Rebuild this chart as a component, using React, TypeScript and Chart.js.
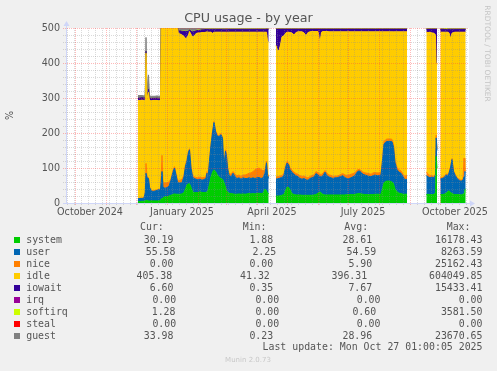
import React, { useEffect, useRef } from "react";
import { Chart, registerables } from "chart.js";

Chart.register(...registerables);

// x = days since 22 Sep 2024 (400-day window ending 27 Oct 2025)
const days = [
  72, 74, 76, 78, 79.3, 80, 81, 82.5, 83.5, 85, 87, 89, 91, 93, 94.5,
  95.2, 96, 97, 99, 101, 103, 105, 107, 108.5, 110, 111.5,
  112.3, 114, 116, 118, 119.5, 121, 122.5, 123.5, 125, 126.5,
  128, 130, 132, 134, 136, 138, 140, 141, 142, 143.5,
  145, 146.5, 148, 149.5, 151, 153, 155, 156.5, 157.5, 158.5,
  159.5, 160.5, 161.5, 163, 165, 167, 169, 171, 173, 175,
  177, 179, 181, 183, 185, 187, 189, 191, 193, 195,
  197, 199, 200.5, 201.5, 202.7,
  206,
  210, 211.5, 213, 214.5, 216, 218, 219.5, 221, 222.5, 224,
  226, 228, 230, 232, 234, 236, 238, 240, 242, 244,
  246, 248, 250, 252, 254, 255.5, 257, 259, 261, 263,
  265, 267, 269, 271, 273, 275, 277, 279, 281, 283,
  285, 287, 289, 291, 293, 295, 297, 299, 301, 303,
  305, 307, 309, 311, 313, 315, 316.5, 318, 320, 322,
  324, 326, 327.5, 329, 331, 333, 335, 337, 339, 341,
  350,
  360.3, 362, 364, 366, 368, 369.5, 370.2, 371,
  372.5,
  374.3, 376, 378, 380, 381.5, 383, 384.5, 386, 387.5, 389,
  391, 393, 395, 397, 398, 398.8, 399.7,
];

const system = [
  4, 4, 5, 5, 6, 8, 7, 6, 6, 6, 6, 6, 6, 6, 7,
  12, 12, 15, 18, 18, 20, 22, 25, 26, 25, 25,
  25, 25, 26, 30, 40, 52, 55, 55, 45, 33,
  30, 30, 30, 32, 30, 30, 30, 33, 35, 55,
  75, 88, 95, 90, 82, 74, 70, 68, 62, 55,
  45, 35, 32, 28, 27, 26, 25, 25, 26, 25,
  26, 25, 26, 27, 26, 27, 26, 27, 28, 27,
  28, 40, 35, 28, 27,
  null,
  20, 20, 20, 21, 22, 25, 35, 45, 45, 38,
  27, 24, 23, 23, 23, 22, 22, 22, 22, 22,
  22, 23, 24, 28, 32, 28, 24, 23, 23, 23,
  23, 23, 23, 23, 23, 23, 23, 23, 24, 24,
  24, 24, 25, 26, 27, 26, 25, 24, 24, 24,
  24, 24, 25, 25, 25, 25, 40, 58, 62, 63,
  62, 60, 55, 40, 32, 28, 27, 25, 25, 25,
  null,
  24, 25, 24, 24, 24, 30, 133, 100,
  null,
  24, 24, 25, 27, 32, 35, 30, 27, 25, 24,
  24, 24, 23, 24, 28, 38, 40,
];

const user = [
  8, 9, 8, 9, 24, 77, 65, 64, 39, 29, 27, 28, 30, 32, 30,
  48, 78, 30, 24, 26, 28, 43, 63, 74, 55, 35,
  33, 32, 32, 45, 65, 68, 90, 97, 55, 42,
  40, 38, 36, 36, 35, 37, 40, 52, 35, 65,
  90, 112, 135, 115, 110, 116, 125, 117, 63, 65,
  103, 100, 68, 52, 48, 59, 50, 45, 46, 43,
  46, 45, 44, 45, 44, 45, 44, 45, 45, 43,
  44, 45, 80, 52, 43,
  null,
  48, 50, 50, 51, 50, 55, 65, 69, 65, 57,
  61, 58, 55, 52, 47, 46, 48, 44, 43, 48,
  50, 51, 60, 52, 43, 47, 54, 65, 55, 51,
  49, 47, 49, 49, 51, 53, 55, 49, 46, 46,
  48, 51, 53, 62, 65, 62, 57, 56, 54, 52,
  51, 54, 55, 53, 53, 55, 80, 110, 113, 113,
  114, 115, 105, 75, 63, 60, 58, 50, 41, 43,
  null,
  54, 50, 48, 50, 48, 50, 53, 50,
  null,
  44, 46, 47, 53, 46, 50, 70, 97, 65, 56,
  46, 41, 39, 41, 47, 52, 48,
];

const nice = [
  1, 1, 1, 1, 2, 28, 4, 3, 2, 2, 2, 2, 2, 2, 2,
  20, 46, 15, 15, 14, 12, 5, 5, 4, 5, 6,
  7, 8, 10, 5, 5, 4, 3, 3, 5, 5,
  5, 5, 6, 6, 7, 6, 5, 5, 5, 4,
  4, 4, 3, 3, 3, 3, 3, 3, 3, 5,
  4, 5, 4, 5, 7, 5, 7, 8, 8, 8,
  8, 10, 12, 13, 16, 18, 25, 26, 27, 26,
  20, 10, 5, 4, 5,
  null,
  6, 6, 6, 6, 6, 5, 5, 5, 5, 5,
  6, 6, 6, 7, 8, 8, 7, 8, 7, 6,
  6, 6, 6, 6, 7, 7, 7, 5, 7, 6,
  7, 6, 5, 5, 5, 6, 6, 8, 9, 10,
  10, 9, 8, 6, 4, 5, 6, 6, 7, 8,
  7, 8, 7, 8, 8, 6, 5, 8, 7, 7,
  7, 7, 8, 7, 7, 6, 7, 7, 10, 12,
  null,
  10, 9, 6, 4, 4, 3, 8, 5,
  null,
  4, 3, 3, 3, 3, 3, 3, 3, 3, 3,
  3, 3, 3, 3, 53, 3, 4,
];

const idle = [
  280, 279, 280, 278, 262, 315, 224, 243, 246, 255, 258, 257, 255, 252, 254,
  425, 369, 445, 448, 447, 445, 435, 412, 401, 420, 439,
  419, 418, 412, 396, 360, 348, 332, 335, 377, 395,
  401, 411, 414, 412, 415, 414, 413, 399, 413, 364,
  319, 281, 255, 280, 293, 295, 290, 300, 360, 363,
  336, 348, 384, 403, 406, 398, 406, 410, 408, 412,
  408, 408, 406, 403, 402, 398, 393, 390, 388, 392,
  396, 393, 368, 378, 385,
  null,
  376, 360, 359, 374, 397, 393, 380, 369, 373, 387,
  392, 392, 403, 407, 411, 413, 409, 404, 415, 413,
  412, 410, 400, 404, 376, 406, 405, 397, 405, 409,
  410, 413, 412, 412, 410, 407, 405, 409, 410, 409,
  407, 405, 403, 395, 393, 396, 401, 403, 404, 405,
  407, 403, 402, 403, 403, 403, 364, 313, 307, 306,
  306, 307, 321, 367, 387, 395, 397, 407, 413, 409,
  null,
  400, 403, 410, 408, 409, 397, 193, 245,
  null,
  416, 415, 413, 405, 407, 398, 367, 358, 394, 405,
  415, 420, 423, 420, 360, 395, 396,
];

const iowait = [
  7, 7, 7, 7, 7, 6, 6, 9, 6, 7, 6, 6, 7, 7, 7,
  8, 8, 8, 8, 8, 8, 8, 8, 8, 8, 8,
  9, 9, 11, 14, 20, 18, 11, 5, 9, 14,
  14, 8, 7, 8, 8, 8, 8, 7, 8, 8,
  8, 11, 8, 8, 8, 8, 8, 8, 8, 8,
  8, 8, 8, 8, 8, 8, 8, 8, 8, 8,
  8, 8, 8, 8, 8, 8, 8, 8, 8, 8,
  8, 8, 9, 35, 37,
  null,
  47, 61, 62, 45, 22, 19, 12, 9, 9, 10,
  11, 17, 10, 8, 8, 8, 11, 19, 10, 8,
  7, 7, 7, 7, 39, 9, 7, 7, 7, 8,
  8, 8, 8, 8, 8, 8, 8, 8, 8, 8,
  8, 8, 8, 8, 8, 8, 8, 8, 8, 8,
  8, 8, 8, 8, 8, 8, 8, 8, 8, 8,
  8, 8, 8, 8, 8, 8, 8, 8, 8, 8,
  null,
  9, 10, 9, 11, 12, 17, 110, 97,
  null,
  8, 8, 8, 8, 8, 10, 26, 11, 9, 8,
  8, 8, 8, 8, 8, 8, 8,
];

const softirq = [
  0, 0, 0, 0, 0, 0, 0, 0, 0, 0, 0, 0, 0, 0, 0,
  0, 0, 0, 0, 0, 0, 0, 0, 0, 0, 0,
  1, 1, 1, 1, 1, 1, 1, 1, 1, 1,
  1, 1, 1, 1, 1, 1, 1, 1, 1, 1,
  1, 1, 1, 1, 1, 1, 1, 1, 1, 1,
  1, 1, 1, 1, 1, 1, 1, 1, 1, 1,
  1, 1, 1, 1, 1, 1, 1, 1, 1, 1,
  1, 1, 1, 1, 1,
  null,
  1, 1, 1, 1, 1, 1, 1, 1, 1, 1,
  1, 1, 1, 1, 1, 1, 1, 1, 1, 1,
  1, 1, 1, 1, 1, 1, 1, 1, 1, 1,
  1, 1, 1, 1, 1, 1, 1, 3, 1, 1,
  1, 1, 1, 1, 1, 3, 1, 1, 1, 1,
  1, 1, 3, 1, 1, 1, 1, 1, 1, 1,
  1, 1, 1, 1, 1, 1, 1, 1, 1, 1,
  null,
  1, 3, 1, 1, 1, 1, 1, 1,
  null,
  1, 1, 1, 3, 1, 1, 1, 1, 1, 1,
  1, 1, 1, 1, 1, 1, 1,
];

const guest = [
  7, 7, 6, 6, 6, 39, 6, 41, 7, 6, 6, 6, 6, 6, 6,
  25, 25, 25, 25, 25, 25, 25, 25, 25, 25, 25,
  28, 28, 28, 28, 28, 28, 28, 28, 28, 28,
  28, 28, 28, 28, 28, 28, 28, 28, 28, 28,
  28, 28, 28, 28, 28, 28, 28, 28, 28, 28,
  28, 28, 28, 28, 28, 28, 28, 28, 28, 28,
  28, 28, 28, 28, 28, 28, 28, 28, 28, 28,
  28, 28, 28, 28, 28,
  null,
  28, 28, 28, 28, 28, 28, 28, 28, 28, 28,
  28, 28, 28, 28, 28, 28, 28, 28, 28, 28,
  28, 28, 28, 28, 28, 28, 28, 28, 28, 28,
  28, 28, 28, 28, 28, 28, 28, 28, 28, 28,
  28, 28, 28, 28, 28, 28, 28, 28, 28, 28,
  28, 28, 28, 28, 28, 28, 28, 28, 28, 28,
  28, 28, 28, 28, 28, 28, 28, 28, 28, 28,
  null,
  28, 28, 28, 28, 28, 28, 28, 28,
  null,
  28, 28, 28, 28, 28, 28, 28, 28, 28, 28,
  28, 28, 28, 28, 28, 28, 28,
];

const SERIES = [
  { name: "system", color: "#00CC00", values: system },
  { name: "user", color: "#0066B3", values: user },
  { name: "nice", color: "#FF8000", values: nice },
  { name: "idle", color: "#FFCC00", values: idle },
  { name: "iowait", color: "#330099", values: iowait },
  { name: "softirq", color: "#CCFF00", values: softirq },
  { name: "guest", color: "#808080", values: guest },
];

// axis ticks
const yTicks = [0, 100, 200, 300, 400, 500];
const monthStarts = [9, 40, 70, 101, 132, 160, 191, 221, 252, 282, 313, 344, 374];
const labelDays = [24, 116, 206, 297, 389];
const labelTexts = ["October 2024", "January 2025", "April 2025", "July 2025", "October 2025"];

// legend table
const legendNames = ["system", "user", "nice", "idle", "iowait", "irq", "softirq", "steal", "guest"];
const legendColors = ["#00CC00", "#0066B3", "#FF8000", "#FFCC00", "#330099", "#990099", "#CCFF00", "#FF0000", "#808080"];
const curVals = ["30.19", "55.58", "0.00", "405.38", "6.60", "0.00", "1.28", "0.00", "33.98"];
const minVals = ["1.88", "2.25", "0.00", "41.32", "0.35", "0.00", "0.00", "0.00", "0.23"];
const avgVals = ["28.61", "54.59", "5.90", "396.31", "7.67", "0.00", "0.60", "0.00", "28.96"];
const maxVals = ["16178.43", "8263.59", "25162.43", "604049.85", "15433.41", "0.00", "3581.50", "0.00", "23670.65"];

const curRight = [173.5, 175.5, 173.5, 172.2, 173.5, 176.2, 175.5, 176.2, 173.5];
const minRight = [273.2, 276.2, 273.2, 269.8, 273.2, 279.2, 279.2, 279.2, 273.2];
const avgRight = [372.2, 376.2, 372.2, 367.2, 372.2, 380.5, 376.2, 380.5, 372.2];
const maxRight = 482.5;

const TEXT = "#555555";
const MINOR = "rgba(140,140,140,0.32)";
const MAJOR = "rgba(255,60,60,0.36)";
const AXIS = "#CFD6F8";

const rrdPlugin = {
  id: "rrdStyle",
  beforeDraw(chart: any) {
    const ctx = chart.ctx;
    const a = chart.chartArea;
    ctx.save();
    ctx.fillStyle = "#F0F0F0";
    ctx.fillRect(0, 0, chart.width, chart.height);
    ctx.fillStyle = "#FFFFFF";
    ctx.fillRect(a.left, a.top, a.right - a.left, a.bottom - a.top);
    ctx.restore();
  },
  afterDatasetsDraw(chart: any) {
    const ctx = chart.ctx;
    const a = chart.chartArea;
    const xs = chart.scales.x;
    const ys = chart.scales.y;
    const line = (x1: number, y1: number, x2: number, y2: number) => {
      ctx.beginPath();
      ctx.moveTo(x1, y1);
      ctx.lineTo(x2, y2);
      ctx.stroke();
    };
    ctx.save();
    ctx.lineWidth = 1;
    ctx.setLineDash([1, 1]);
    // minor grid
    ctx.strokeStyle = MINOR;
    for (let v = 20; v < 500; v += 20) {
      if (v % 100 === 0) continue;
      const y = Math.round(ys.getPixelForValue(v)) + 0.5;
      line(a.left - 3, y, a.right, y);
    }
    for (let d = 1; d < 403; d += 7) {
      if (monthStarts.includes(d)) continue;
      const x = Math.round(xs.getPixelForValue(d)) + 0.5;
      line(x, a.top, x, a.bottom + 3);
    }
    // major grid
    ctx.strokeStyle = MAJOR;
    for (const v of yTicks) {
      const y = Math.round(ys.getPixelForValue(v)) + 0.5;
      line(a.left - 3, y, a.right, y);
    }
    for (const d of monthStarts) {
      const x = Math.round(xs.getPixelForValue(d)) + 0.5;
      line(x, a.top, x, a.bottom + 3);
    }
    ctx.setLineDash([]);
    // axes + arrows
    ctx.strokeStyle = AXIS;
    ctx.fillStyle = AXIS;
    const ax = Math.round(a.left) + 0.5;
    const ay = Math.round(a.bottom) + 0.5;
    line(ax, ay, ax, a.top - 3);
    line(a.left - 3, ay, a.right + 1, ay);
    ctx.beginPath();
    ctx.moveTo(ax, a.top - 7);
    ctx.lineTo(ax - 3, a.top - 2);
    ctx.lineTo(ax + 3, a.top - 2);
    ctx.closePath();
    ctx.fill();
    ctx.beginPath();
    ctx.moveTo(a.right + 6, ay);
    ctx.lineTo(a.right + 1, ay - 3);
    ctx.lineTo(a.right + 1, ay + 3);
    ctx.closePath();
    ctx.fill();
    ctx.restore();
  },
  afterDraw(chart: any) {
    const ctx = chart.ctx;
    ctx.save();
    // title
    ctx.fillStyle = TEXT;
    ctx.font = '12.7px "DejaVu Sans"';
    ctx.textAlign = "center";
    ctx.textBaseline = "middle";
    ctx.fillText("CPU usage - by year", 248.5, 19);
    // side credit
    ctx.save();
    ctx.translate(487.3, 53.5);
    ctx.rotate(Math.PI / 2);
    ctx.fillStyle = "#C4C4C4";
    ctx.font = '7.5px "DejaVu Sans"';
    ctx.fillText("RRDTOOL / TOBI OETIKER", 0, 0);
    ctx.restore();
    // legend table
    ctx.font = '9.9px "DejaVu Sans Mono"';
    ctx.fillStyle = TEXT;
    ctx.textAlign = "left";
    ctx.fillText("Cur:", 140, 227.3);
    ctx.fillText("Min:", 242.7, 227.3);
    ctx.fillText("Avg:", 344.3, 227.3);
    ctx.fillText("Max:", 446.7, 227.3);
    legendNames.forEach((name, i) => {
      const y = 240 + 12 * i;
      ctx.fillStyle = legendColors[i];
      ctx.fillRect(14, Math.round(y - 3), 6, 6);
      ctx.fillStyle = TEXT;
      ctx.textAlign = "left";
      ctx.fillText(name, 26.2, y);
      ctx.textAlign = "right";
      ctx.fillText(curVals[i], curRight[i], y);
      ctx.fillText(minVals[i], minRight[i], y);
      ctx.fillText(avgVals[i], avgRight[i], y);
      ctx.fillText(maxVals[i], maxRight, y);
    });
    ctx.textAlign = "right";
    ctx.fillText("Last update: Mon Oct 27 01:00:05 2025", maxRight, 347.8);
    ctx.textAlign = "center";
    ctx.fillStyle = "#C8C8C8";
    ctx.font = '7px "DejaVu Sans"';
    ctx.fillText("Munin 2.0.73", 248, 360);
    ctx.restore();
  },
};

export default function App() {
  const ref = useRef<HTMLCanvasElement | null>(null);

  useEffect(() => {
    if (!ref.current) return;
    const datasets = SERIES.map((s, i) => ({
      label: s.name,
      data: days.map((d, j) => ({ x: d, y: s.values[j] })),
      backgroundColor: s.color,
      borderColor: s.color,
      borderWidth: 1,
      pointRadius: 0,
      tension: 0,
      spanGaps: false,
      fill: i === 0 ? "origin" : "-1",
    }));
    const chart = new Chart(ref.current, {
      type: "line",
      data: { datasets },
      plugins: [rrdPlugin],
      options: {
        animation: false,
        responsive: false,
        devicePixelRatio: 1,
        events: [],
        layout: { padding: { left: 0, right: 28, top: 28, bottom: 0 } },
        plugins: {
          legend: { display: false },
          tooltip: { enabled: false },
          title: { display: false },
        },
        scales: {
          x: {
            type: "linear",
            min: 0,
            max: 403,
            grid: { display: false, drawTicks: false },
            border: { display: false },
            afterBuildTicks: (s: any) => {
              s.ticks = labelDays.map((v) => ({ value: v }));
            },
            afterFit: (s: any) => {
              s.height = 168;
            },
            ticks: {
              autoSkip: false,
              maxRotation: 0,
              minRotation: 0,
              padding: 4,
              color: TEXT,
              font: { family: "DejaVu Sans", size: 9.6 },
              callback: (_v: any, idx: number) => labelTexts[idx],
            },
          },
          y: {
            stacked: true,
            min: 0,
            max: 500,
            grid: { display: false, drawTicks: false },
            border: { display: false },
            afterBuildTicks: (s: any) => {
              s.ticks = yTicks.map((v) => ({ value: v }));
            },
            afterFit: (s: any) => {
              s.width = 66;
            },
            ticks: {
              padding: 6,
              color: TEXT,
              font: { family: "DejaVu Sans", size: 9.6 },
              callback: (v: any) => String(v),
            },
            title: {
              display: true,
              text: "%",
              color: TEXT,
              font: { family: "DejaVu Sans", size: 9.6 },
              padding: { top: 5, bottom: 0 },
            },
          },
        },
      } as any,
    });
    return () => chart.destroy();
  }, []);

  return (
    <div style={{ position: "fixed", left: 0, top: 0, width: 497, height: 371, background: "#F0F0F0" }}>
      <canvas ref={ref} width={497} height={371} style={{ display: "block", width: 497, height: 371 }} />
    </div>
  );
}
